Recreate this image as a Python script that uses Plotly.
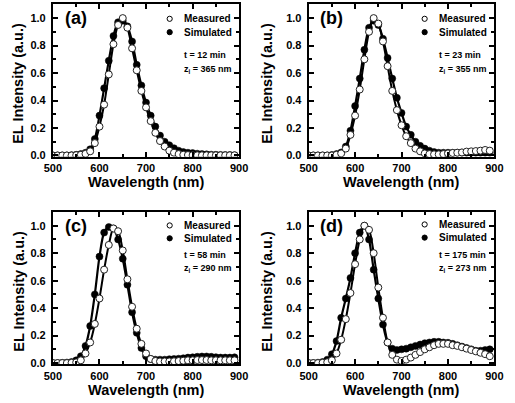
import plotly.graph_objects as go

# ---------------- data ----------------
wavelength = [500, 510, 520, 530, 540, 550, 560, 570, 580, 590,
              600, 610, 620, 630, 640, 650, 660, 670, 680, 690,
              700, 710, 720, 730, 740, 750, 760, 770, 780, 790,
              800, 810, 820, 830, 840, 850, 860, 870, 880, 890]

a_measured = [0.0, 0.0, 0.0, 0.0, 0.0, 0.002, 0.005, 0.012, 0.03, 0.09,
              0.21, 0.37, 0.59, 0.81, 0.95, 1.0, 0.93, 0.78, 0.62, 0.47,
              0.35, 0.25, 0.165, 0.105, 0.065, 0.035, 0.02, 0.01, 0.005, 0.003,
              0.002, 0.001, 0.001, 0.001, 0.001, 0.001, 0.001, 0.001, 0.001, 0.001]
a_simulated = [0.0, 0.0, 0.0, 0.0, 0.002, 0.005, 0.01, 0.02, 0.045, 0.12,
               0.29, 0.49, 0.69, 0.87, 0.97, 0.98, 0.94, 0.83, 0.66, 0.51,
               0.385, 0.29, 0.21, 0.145, 0.1, 0.075, 0.053, 0.035, 0.025, 0.02,
               0.017, 0.013, 0.01, 0.008, 0.006, 0.005, 0.004, 0.003, 0.003, 0.002]

b_measured = [0.0, 0.0, 0.0, 0.0, 0.0, 0.0, 0.005, 0.015, 0.05, 0.15,
              0.29, 0.48, 0.70, 0.90, 1.0, 0.96, 0.83, 0.65, 0.47, 0.33,
              0.22, 0.14, 0.09, 0.05, 0.03, 0.015, 0.01, 0.008, 0.008, 0.01,
              0.015, 0.018, 0.02, 0.022, 0.028, 0.03, 0.032, 0.035, 0.04, 0.035]
b_simulated = [0.0, 0.0, 0.0, 0.0, 0.0, 0.003, 0.01, 0.022, 0.065, 0.18,
               0.36, 0.56, 0.77, 0.93, 0.98, 0.95, 0.85, 0.71, 0.56, 0.42,
               0.31, 0.21, 0.15, 0.1, 0.07, 0.05, 0.035, 0.025, 0.02, 0.02,
               0.02, 0.02, 0.02, 0.02, 0.02, 0.02, 0.02, 0.02, 0.02, 0.02]

c_measured = [0.0, 0.0, 0.0, 0.0, 0.002, 0.005, 0.02, 0.07, 0.15, 0.285,
              0.47, 0.68, 0.86, 0.98, 0.96, 0.82, 0.61, 0.41, 0.25, 0.14,
              0.07, 0.03, 0.015, 0.012, 0.012, 0.012, 0.013, 0.015, 0.017, 0.02,
              0.02, 0.022, 0.022, 0.022, 0.02, 0.02, 0.02, 0.02, 0.02, 0.02]
c_simulated = [0.0, 0.0, 0.002, 0.004, 0.008, 0.02, 0.05, 0.125, 0.27, 0.5,
               0.775, 0.95, 0.99, 0.98, 0.9, 0.76, 0.57, 0.37, 0.22, 0.11,
               0.05, 0.03, 0.025, 0.025, 0.025, 0.028, 0.03, 0.032, 0.035, 0.04,
               0.042, 0.046, 0.048, 0.048, 0.046, 0.043, 0.04, 0.04, 0.04, 0.042]

d_measured = [0.0, 0.0, 0.0, 0.002, 0.006, 0.02, 0.07, 0.17, 0.32, 0.51,
              0.72, 0.9, 1.0, 0.97, 0.8, 0.55, 0.33, 0.15, 0.06, 0.025,
              0.015, 0.025, 0.04, 0.06, 0.08, 0.1, 0.115, 0.13, 0.14, 0.14,
              0.14, 0.13, 0.125, 0.115, 0.105, 0.095, 0.085, 0.075, 0.065, 0.05]
d_simulated = [0.0, 0.0, 0.003, 0.008, 0.025, 0.065, 0.16, 0.33, 0.47, 0.62,
               0.8, 0.95, 1.0, 0.9, 0.68, 0.47, 0.28, 0.15, 0.105, 0.095,
               0.1, 0.105, 0.115, 0.125, 0.135, 0.145, 0.15, 0.155, 0.155, 0.15,
               0.148, 0.14, 0.13, 0.12, 0.11, 0.1, 0.09, 0.09, 0.095, 0.1]

panel_labels = ["(a)", "(b)", "(c)", "(d)"]
time_labels = ["t = 12 min", "t = 23 min", "t = 58 min", "t = 175 min"]
depth_labels = ["365 nm", "355 nm", "290 nm", "273 nm"]
series_names = ["Measured", "Simulated"]
x_title = "Wavelength (nm)"
y_title = "EL Intensity (a.u.)"

panels = [(a_measured, a_simulated), (b_measured, b_simulated),
          (c_measured, c_simulated), (d_measured, d_simulated)]

# ---------------- layout geometry (pixels) ----------------
W, H = 515, 403
FONT = "Liberation Sans, Arial, sans-serif"


def fx(p):
    return p / W


def fy(p):
    return 1 - p / H


x_dom_px = [(45.5, 238.5), (310.5, 503.0), (45.5, 238.5), (310.5, 503.0)]
y_dom_px = [(4.4, 158.4), (4.4, 158.4), (214.1, 368.1), (214.1, 368.1)]

fig = go.Figure()

for i, (meas, sim) in enumerate(panels):
    xa = "x" if i == 0 else f"x{i+1}"
    ya = "y" if i == 0 else f"y{i+1}"
    # lines first
    for vals, w in ((meas, 2.0), (sim, 2.2)):
        fig.add_trace(go.Scatter(x=wavelength, y=vals, mode="lines",
                                 line=dict(color="black", width=w, shape="spline", smoothing=0.8),
                                 xaxis=xa, yaxis=ya, showlegend=False, hoverinfo="skip"))
    fig.add_trace(go.Scatter(x=wavelength, y=sim, mode="markers", name=series_names[1],
                             marker=dict(symbol="circle", size=7, color="black",
                                         line=dict(color="black", width=0.5)),
                             xaxis=xa, yaxis=ya, showlegend=False))
    fig.add_trace(go.Scatter(x=wavelength, y=meas, mode="markers", name=series_names[0],
                             marker=dict(symbol="circle", size=7, color="white",
                                         line=dict(color="#222", width=1)),
                             xaxis=xa, yaxis=ya, showlegend=False))

axis_common = dict(showline=True, linecolor="black", linewidth=2, mirror="ticks",
                   ticks="inside", ticklen=5, tickwidth=1.5, tickcolor="black",
                   showgrid=False, zeroline=False,
                   tickfont=dict(family=FONT, size=11, color="black", weight="bold"))

layout_axes = {}
for i in range(4):
    sx = "xaxis" if i == 0 else f"xaxis{i+1}"
    sy = "yaxis" if i == 0 else f"yaxis{i+1}"
    ya = "y" if i == 0 else f"y{i+1}"
    xa = "x" if i == 0 else f"x{i+1}"
    x0, x1 = x_dom_px[i]
    y0, y1 = y_dom_px[i]
    layout_axes[sx] = dict(axis_common, domain=[fx(x0), fx(x1)], anchor=ya,
                           range=[500, 900], tick0=500, dtick=100,
                           ticklabelstandoff=0,
                           minor=dict(ticks="inside", ticklen=3, tickwidth=1.5,
                                      tickcolor="black", dtick=50, tick0=500))
    layout_axes[sy] = dict(axis_common, domain=[fy(y1), fy(y0)], anchor=xa,
                           range=[-0.01, 1.1], tick0=0, dtick=0.2, tickformat=".1f",
                           ticklabelstandoff=3,
                           minor=dict(ticks="inside", ticklen=3, tickwidth=1.5,
                                      tickcolor="black", dtick=0.1, tick0=0))

annotations = []
shapes = []

# per-panel text positions (pixels)
letter_pos = [(56, 18.5), (320, 18.5), (56, 228.5), (320, 228.5)]
legend_marker_x = [166.5, 430.7, 166.5, 430.7]
legend_rows = [(19, 32.5), (19, 32.5), (227.7, 240.7), (226.7, 240.0)]
info_rows = [(55.5, 70), (55.5, 70), (257.5, 271), (258, 271.5)]
xtitle_pos = [(142, 184), (406.5, 184), (142, 393.5), (406.5, 393.5)]
ytitle_pos = [(10, 84), (267, 84), (10, 294), (267, 294)]

for i in range(4):
    lx, ly = letter_pos[i]
    annotations.append(dict(text=f"<b>{panel_labels[i]}</b>", x=fx(lx), y=fy(ly),
                            xref="paper", yref="paper", xanchor="left", yanchor="middle",
                            showarrow=False, font=dict(family=FONT, size=18, color="black")))
    mx = legend_marker_x[i]
    r1, r2 = legend_rows[i]
    for row, name, fill in ((r1, series_names[0], "white"), (r2, series_names[1], "black")):
        shapes.append(dict(type="circle", xref="paper", yref="paper",
                           xsizemode="pixel", ysizemode="pixel",
                           xanchor=fx(mx), yanchor=fy(row),
                           x0=-2.6, x1=2.6, y0=-2.6, y1=2.6,
                           fillcolor=fill, line=dict(color="black", width=1)))
        annotations.append(dict(text=f"<b>{name}</b>", x=fx(mx + 13), y=fy(row),
                                xref="paper", yref="paper", xanchor="left", yanchor="middle",
                                showarrow=False, font=dict(family=FONT, size=10, color="black")))
    t1, t2 = info_rows[i]
    annotations.append(dict(text=f"<b>{time_labels[i]}</b>", x=fx(mx + 13), y=fy(t1),
                            xref="paper", yref="paper", xanchor="left", yanchor="middle",
                            showarrow=False, font=dict(family=FONT, size=9, color="black")))
    annotations.append(dict(text=f"<b>z<sub>i</sub> = {depth_labels[i]}</b>", x=fx(mx + 13), y=fy(t2),
                            xref="paper", yref="paper", xanchor="left", yanchor="middle",
                            showarrow=False, font=dict(family=FONT, size=9, color="black")))
    tx, ty = xtitle_pos[i]
    annotations.append(dict(text=f"<b>{x_title}</b>", x=fx(tx), y=fy(ty),
                            xref="paper", yref="paper", xanchor="center", yanchor="middle",
                            showarrow=False, font=dict(family=FONT, size=14.5, color="black")))
    vx, vy = ytitle_pos[i]
    annotations.append(dict(text=f"<b>{y_title}</b>", x=fx(vx), y=fy(vy), textangle=-90,
                            xref="paper", yref="paper", xanchor="center", yanchor="middle",
                            showarrow=False, font=dict(family=FONT, size=14.5, color="black")))

fig.update_layout(width=W, height=H, autosize=False,
                  margin=dict(l=0, r=0, t=0, b=0),
                  paper_bgcolor="white", plot_bgcolor="white",
                  showlegend=False, annotations=annotations, shapes=shapes,
                  **layout_axes)

fig.write_html("out.html")
